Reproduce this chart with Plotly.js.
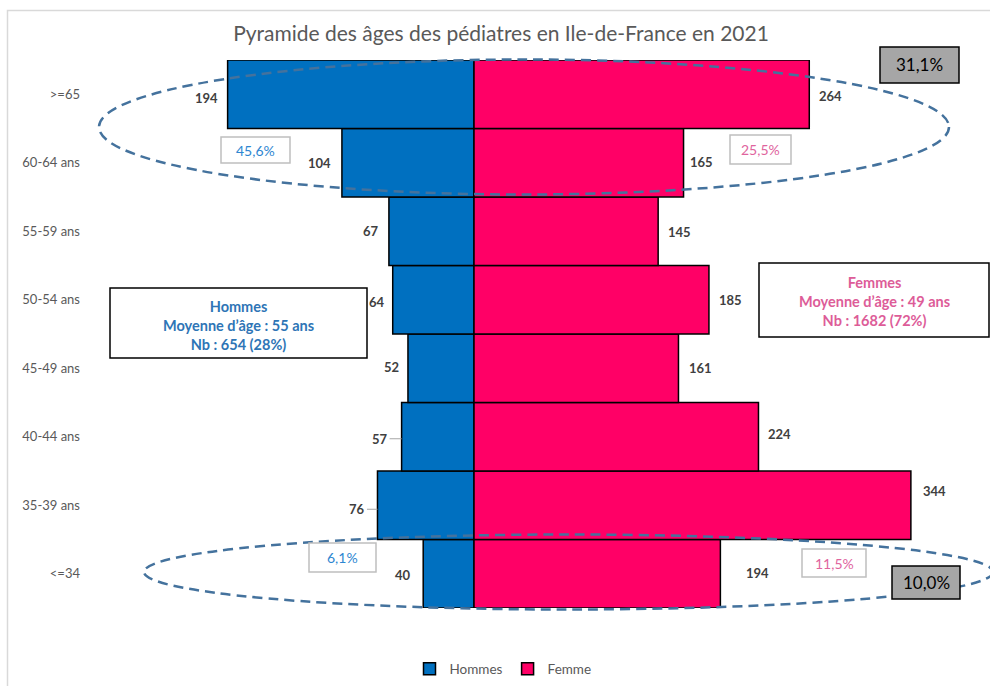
<!DOCTYPE html>
<html>
<head>
<meta charset="utf-8">
<script src="https://cdn.plot.ly/plotly-3.0.1.min.js"></script>
<style>
  html, body { margin: 0; padding: 0; background: #ffffff; }
  #chart { width: 990px; height: 686px; }
</style>
</head>
<body>
<div id="chart"></div>
<script>
// ---------- DATA ----------
const categories = ['<=34', '35-39 ans', '40-44 ans', '45-49 ans', '50-54 ans', '55-59 ans', '60-64 ans', '>=65'];
const hommes = [40, 76, 57, 52, 64, 67, 104, 194];
const femmes = [194, 344, 224, 161, 185, 145, 165, 264];
const seriesNames = ['Hommes', 'Femme'];
const titleText = 'Pyramide des âges des pédiatres en Ile-de-France en 2021';
const hommesInfo = ['Hommes', 'Moyenne d’âge : 55 ans', 'Nb : 654 (28%)'];
const femmesInfo = ['Femmes', 'Moyenne d’âge : 49 ans', 'Nb : 1682 (72%)'];
const pctTopHommes = '45,6%';
const pctTopFemmes = '25,5%';
const pctTopTotal = '31,1%';
const pctBottomHommes = '6,1%';
const pctBottomFemmes = '11,5%';
const pctBottomTotal = '10,0%';

// ---------- STYLE / LAYOUT HELPERS ----------
const FONT = 'Lato, "Open Sans", sans-serif';
const W = 990, H = 686;
const M = {l: 84, r: 10, t: 60, b: 78, autoexpand: false};
const PW = W - M.l - M.r, PH = H - M.t - M.b;
const px = x => (x - M.l) / PW;
const py = y => (H - M.b - y) / PH;

// label offsets (pixels): gap from bar end, vertical shift (positive = up)
const menGap =    [10, 0, 0, 7, 6, 8, 9, 8];
const menShift =  [-1, -4, -2, 1, -2, 0, 0, -4];
const menLeader = [null, -20, -21.5, null, null, null, null, null];
const womGap =    [24, 10, 8, 9, 8, 8, 4, 8];
const womShift =  [1, 14, 3, 0, 0, -1, 1, -2];

const traces = [
  {
    type: 'bar', orientation: 'h', name: seriesNames[0],
    y: categories, x: hommes.map(v => -v),
    marker: {color: '#0070C0', line: {color: '#000000', width: 1.5}},
    hoverinfo: 'skip'
  },
  {
    type: 'bar', orientation: 'h', name: seriesNames[1],
    y: categories, x: femmes,
    marker: {color: '#FF0066', line: {color: '#000000', width: 1.5}},
    hoverinfo: 'skip'
  }
];

const labelFont = {family: FONT, size: 13, color: '#404040', weight: 'bold'};
const annotations = [];
categories.forEach((c, i) => {
  if (menLeader[i] !== null) {
    annotations.push({
      x: -hommes[i], y: c, xref: 'x', yref: 'y', text: '<b>' + hommes[i] + '</b>',
      showarrow: true, arrowhead: 0, arrowwidth: 1, arrowcolor: '#A6A6A6',
      ax: menLeader[i], ay: 0, yshift: menShift[i], font: labelFont
    });
  } else {
    annotations.push({
      x: -hommes[i], y: c, xref: 'x', yref: 'y', text: '<b>' + hommes[i] + '</b>',
      showarrow: false, xanchor: 'right', xshift: -menGap[i], yshift: menShift[i], font: labelFont
    });
  }
  annotations.push({
    x: femmes[i], y: c, xref: 'x', yref: 'y', text: '<b>' + femmes[i] + '</b>',
    showarrow: false, xanchor: 'left', xshift: womGap[i], yshift: womShift[i], font: labelFont
  });
});

function boxText(cx, cy, text, font) {
  annotations.push({
    x: px(cx), y: py(cy), xref: 'paper', yref: 'paper', text: text,
    showarrow: false, xanchor: 'center', yanchor: 'middle', font: font, align: 'center'
  });
}
const blueTxt = '#2E86D1', pinkTxt = '#E0649E';
boxText(919.5, 65, pctTopTotal, {family: FONT, size: 17, color: '#000000'});
boxText(926, 582.5, pctBottomTotal, {family: FONT, size: 17, color: '#000000'});
boxText(255.5, 150, pctTopHommes, {family: FONT, size: 14, color: blueTxt});
boxText(760.5, 149.5, pctTopFemmes, {family: FONT, size: 14, color: pinkTxt});
boxText(342.5, 557.5, pctBottomHommes, {family: FONT, size: 14, color: blueTxt});
boxText(834, 563, pctBottomFemmes, {family: FONT, size: 14, color: pinkTxt});
boxText(238.5, 325, '<b>' + hommesInfo.join('<br>') + '</b>', {family: FONT, size: 14.5, color: '#2E75B6'});
boxText(874, 301, '<b>' + femmesInfo.join('<br>') + '</b>', {family: FONT, size: 14.5, color: '#DD5C98'});

function rect(x0, y0, x1, y1, fill, lineColor, lw) {
  return {type: 'rect', xref: 'paper', yref: 'paper', layer: 'above',
    x0: px(x0), x1: px(x1), y0: py(y1), y1: py(y0),
    fillcolor: fill, line: {color: lineColor, width: lw}};
}
function ellipse(x0, y0, x1, y1) {
  return {type: 'circle', xref: 'paper', yref: 'paper', layer: 'above',
    x0: px(x0), x1: px(x1), y0: py(y1), y1: py(y0),
    line: {color: '#44729D', width: 2.5, dash: '10px,6px'}};
}

const shapes = [
  // outer frame
  {type: 'rect', xref: 'paper', yref: 'paper', layer: 'below',
   x0: px(7.5), x1: px(1010), y0: py(720), y1: py(10.5),
   line: {color: '#D9D9D9', width: 1.5}},
  ellipse(99, 59.5, 949, 194.5),
  ellipse(144, 534.5, 993, 609.5),
  rect(880, 47, 959, 83, '#A6A6A6', '#000000', 1.5),
  rect(892, 566, 960, 599, '#A6A6A6', '#000000', 1.5),
  rect(221, 137, 290, 163, '#FFFFFF', '#BFBFBF', 1.5),
  rect(730, 135, 791, 164, '#FFFFFF', '#BFBFBF', 1.5),
  rect(309, 543, 376, 572, '#FFFFFF', '#BFBFBF', 1.5),
  rect(802, 549, 866, 577, '#FFFFFF', '#BFBFBF', 1.5),
  rect(110, 288, 367, 358, '#FFFFFF', '#000000', 1.5),
  rect(759, 263, 989, 337, '#FFFFFF', '#000000', 1.5)
];

const layout = {
  width: W, height: H,
  margin: M,
  paper_bgcolor: '#FFFFFF', plot_bgcolor: '#FFFFFF',
  font: {family: FONT, color: '#595959'},
  title: {
    text: titleText, font: {family: FONT, size: 21, color: '#595959'},
    xref: 'container', yref: 'container', x: 501 / W, y: 1 - 34 / H,
    xanchor: 'center', yanchor: 'middle'
  },
  barmode: 'relative', bargap: 0,
  xaxis: {
    range: [(M.l - 474) / 1.27, (W - M.r - 474) / 1.27],
    showgrid: false, showticklabels: false, ticks: '',
    zeroline: true, zerolinecolor: '#D3DCE6', zerolinewidth: 1.5,
    layer: 'above traces', fixedrange: true
  },
  yaxis: {
    type: 'category', categoryorder: 'array', categoryarray: categories,
    range: [-0.5, 7.5], showgrid: false, zeroline: false, showline: false, ticks: '',
    ticklabelstandoff: 3,
    tickfont: {family: FONT, size: 13, color: '#595959'}, fixedrange: true
  },
  legend: {
    orientation: 'h', xref: 'container', yref: 'container',
    x: 503 / W, y: 1 - 669 / H, xanchor: 'center', yanchor: 'middle',
    font: {family: FONT, size: 13.5, color: '#595959'}, traceorder: 'normal'
  },
  showlegend: true,
  annotations: annotations,
  shapes: shapes
};

Plotly.newPlot('chart', traces, layout, {displayModeBar: false, staticPlot: true});
</script>
</body>
</html>
